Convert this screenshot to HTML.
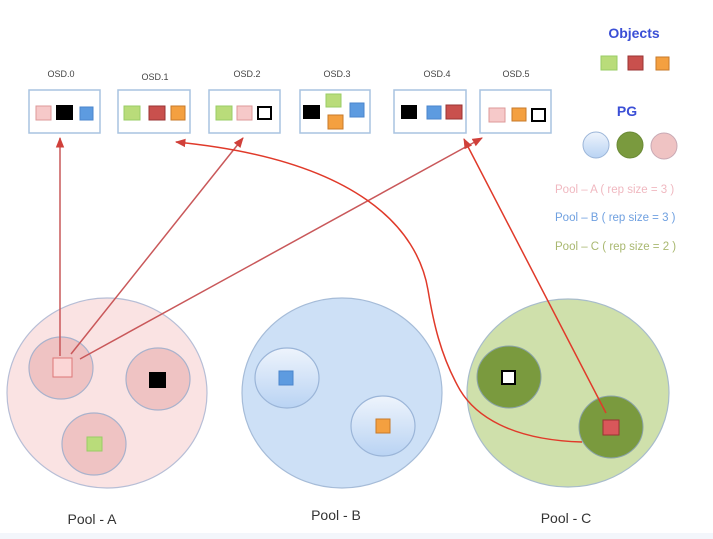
<!DOCTYPE html>
<html><head><meta charset="utf-8"><style>
html,body{margin:0;padding:0;background:#fff;}
svg{display:block;}
text{font-family:"Liberation Sans",sans-serif;}
</style></head><body>
<svg width="713" height="539" viewBox="0 0 713 539" xmlns="http://www.w3.org/2000/svg">
<defs>
<linearGradient id="gb" x1="0" y1="0" x2="0" y2="1"><stop offset="0" stop-color="#eef4fc"/><stop offset="1" stop-color="#b9d3f3"/></linearGradient>
<marker id="ar" viewBox="0 0 10 10" refX="9" refY="5" markerWidth="7" markerHeight="7" orient="auto-start-reverse"><path d="M0,1 L10,5 L0,9 z" fill="#d0403a"/></marker>
</defs>
<rect x="0" y="533" width="713" height="6" fill="#f3f6fb"/>
<g font-size="9" fill="#444" text-anchor="middle">
<text x="61" y="77">OSD.0</text><text x="155" y="80">OSD.1</text><text x="247" y="77">OSD.2</text>
<text x="337" y="77">OSD.3</text><text x="437" y="77">OSD.4</text><text x="516" y="77">OSD.5</text>
</g>
<g fill="#fff" stroke="#a9c3e0" stroke-width="1.5">
<rect x="29" y="90" width="71" height="43"/><rect x="118" y="90" width="72" height="43"/>
<rect x="209" y="90" width="71" height="43"/><rect x="300" y="90" width="70" height="43"/>
<rect x="394" y="90" width="72" height="43"/><rect x="480" y="90" width="71" height="43"/>
</g>
<g stroke-width="1">
<rect x="36" y="106" width="15" height="14" fill="#f6c9c9" stroke="#d99"/>
<rect x="56" y="105" width="17" height="15" fill="#000"/>
<rect x="80" y="107" width="13" height="13" fill="#5d9be0" stroke="#4a86cc"/>
<rect x="124" y="106" width="16" height="14" fill="#b9dc7a" stroke="#9c6"/>
<rect x="149" y="106" width="16" height="14" fill="#c9504d" stroke="#933"/>
<rect x="171" y="106" width="14" height="14" fill="#f4a040" stroke="#c77a2a"/>
<rect x="216" y="106" width="16" height="14" fill="#b9dc7a" stroke="#9c6"/>
<rect x="237" y="106" width="15" height="14" fill="#f6c9c9" stroke="#d99"/>
<rect x="258" y="107" width="13" height="12" fill="#fff" stroke="#000" stroke-width="2"/>
<rect x="303" y="105" width="17" height="14" fill="#000"/>
<rect x="326" y="94" width="15" height="13" fill="#b9dc7a" stroke="#9c6"/>
<rect x="328" y="115" width="15" height="14" fill="#f4a040" stroke="#c77a2a"/>
<rect x="350" y="103" width="14" height="14" fill="#5d9be0" stroke="#4a86cc"/>
<rect x="401" y="105" width="16" height="14" fill="#000"/>
<rect x="427" y="106" width="14" height="13" fill="#5d9be0" stroke="#4a86cc"/>
<rect x="446" y="105" width="16" height="14" fill="#c9504d" stroke="#933"/>
<rect x="489" y="108" width="16" height="14" fill="#f6c9c9" stroke="#d99"/>
<rect x="512" y="108" width="14" height="13" fill="#f4a040" stroke="#c77a2a"/>
<rect x="532" y="109" width="13" height="12" fill="#fff" stroke="#000" stroke-width="2"/>
<rect x="601" y="56" width="16" height="14" fill="#b9dc7a" stroke="#9c6"/>
<rect x="628" y="56" width="15" height="14" fill="#c9504d" stroke="#933"/>
<rect x="656" y="57" width="13" height="13" fill="#f4a040" stroke="#c77a2a"/>
</g>
<text x="634" y="38" font-size="14" font-weight="bold" fill="#3b4fd6" text-anchor="middle">Objects</text>
<text x="627" y="116" font-size="14" font-weight="bold" fill="#3b4fd6" text-anchor="middle">PG</text>
<circle cx="596" cy="145" r="13" fill="url(#gb)" stroke="#9bb5d8"/>
<circle cx="630" cy="145" r="13" fill="#7a9a3e" stroke="#6a8a36"/>
<circle cx="664" cy="146" r="13" fill="#efc3c3" stroke="#c8a9b4"/>
<g font-size="11.5">
<text x="555" y="193" fill="#f0b8c0">Pool – A ( rep size = 3 )</text>
<text x="555" y="221" fill="#6fa0e0">Pool – B ( rep size = 3 )</text>
<text x="555" y="250" fill="#a9b870">Pool – C ( rep size = 2 )</text>
</g>
<ellipse cx="107" cy="393" rx="100" ry="95" fill="#fae3e3" stroke="#b7bed6" stroke-width="1.2"/>
<ellipse cx="342" cy="393" rx="100" ry="95" fill="#cde0f6" stroke="#a6bcd8" stroke-width="1.2"/>
<ellipse cx="568" cy="393" rx="101" ry="94" fill="#cfe0ab" stroke="#a8bccb" stroke-width="1.2"/>
<g stroke="#a9b2cc" stroke-width="1.2" fill="#efc3c3">
<ellipse cx="61" cy="368" rx="32" ry="31"/><ellipse cx="158" cy="379" rx="32" ry="31"/><ellipse cx="94" cy="444" rx="32" ry="31"/>
</g>
<g stroke="#9bb5d8" stroke-width="1.2" fill="url(#gb)">
<ellipse cx="287" cy="378" rx="32" ry="30"/><ellipse cx="383" cy="426" rx="32" ry="30"/>
</g>
<g stroke="#8aa2a8" stroke-width="1" fill="#7a9a3e">
<ellipse cx="509" cy="377" rx="32" ry="31"/><ellipse cx="611" cy="427" rx="32" ry="31"/>
</g>
<rect x="53" y="358" width="19" height="19" fill="#fbd6d6" stroke="#d77" />
<rect x="149" y="372" width="17" height="16" fill="#000"/>
<rect x="87" y="437" width="15" height="14" fill="#b9dc7a" stroke="#9c6"/>
<rect x="279" y="371" width="14" height="14" fill="#5d9be0" stroke="#4a86cc"/>
<rect x="376" y="419" width="14" height="14" fill="#f4a040" stroke="#c77a2a"/>
<rect x="502" y="371" width="13" height="13" fill="#fff" stroke="#000" stroke-width="2"/>
<rect x="603" y="420" width="16" height="15" fill="#d9575a" stroke="#933"/>
<g fill="none" stroke-width="1.5">
<line x1="60" y1="356" x2="60" y2="138" stroke="#c9585a" marker-end="url(#ar)"/>
<line x1="71" y1="354" x2="243" y2="138" stroke="#c9585a" marker-end="url(#ar)"/>
<line x1="80" y1="359" x2="482" y2="138" stroke="#c9585a" marker-end="url(#ar)"/>
<line x1="606" y1="413" x2="464" y2="139" stroke="#e03a2a" marker-end="url(#ar)"/>
<path d="M582,442 C510,440 475,415 460,390 C440,355 433,320 428,290 C418,230 360,160 176,142" stroke="#e03a2a" marker-end="url(#ar)"/>
</g>
<g font-size="14" fill="#333" text-anchor="middle">
<text x="92" y="524">Pool - A</text><text x="336" y="520">Pool - B</text><text x="566" y="523">Pool - C</text>
</g>
</svg>
</body></html>
